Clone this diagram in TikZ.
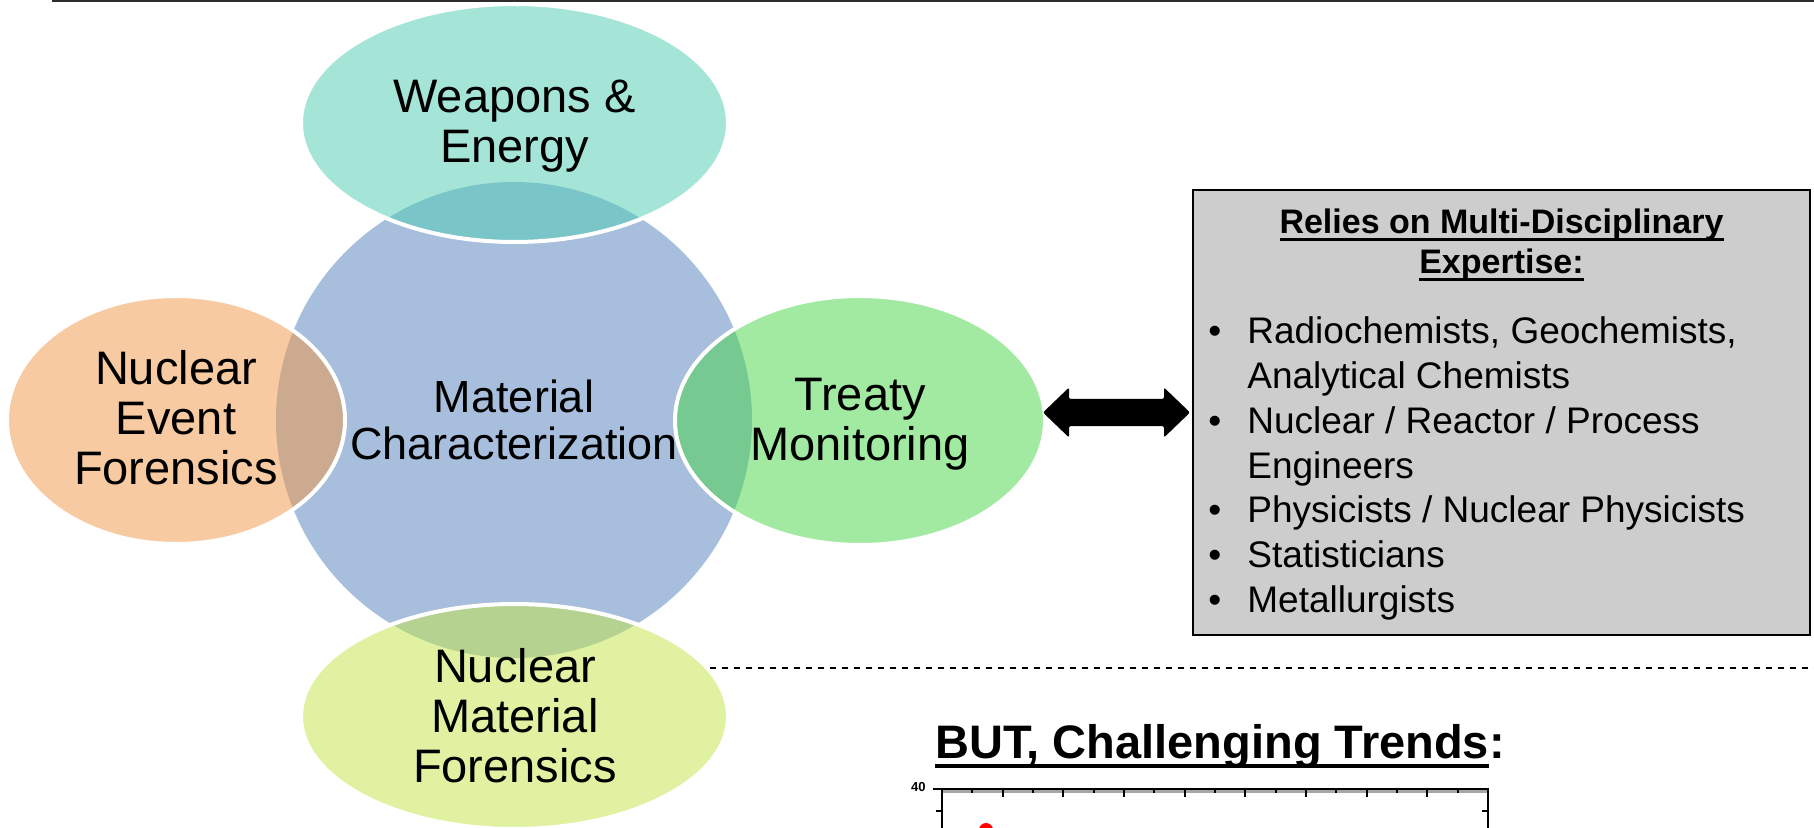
\documentclass[tikz,border=0pt]{standalone}
\usepackage{fontspec}
\setmainfont{Liberation Sans}
\usetikzlibrary{shapes.geometric,calc}
\definecolor{circblue}{RGB}{167,190,220}
\definecolor{tealc}{RGB}{77,205,179}
\definecolor{peachc}{RGB}{241,151,69}
\definecolor{greenc}{RGB}{71,215,71}
\definecolor{limec}{RGB}{195,231,69}
\definecolor{boxgray}{RGB}{205,205,205}
\definecolor{rulegray}{RGB}{45,45,45}
\newsavebox\ulbox
\newcommand\myul[3]{\sbox\ulbox{#1}\rlap{\rule[#2]{\wd\ulbox}{#3}}\usebox\ulbox}
\newcommand\mlines[1]{\begin{tabular}[t]{@{}c@{}}#1\end{tabular}}
\tikzset{
  sat/.style={ellipse, draw=white, line width=2pt, fill opacity=0.5, draw opacity=1, inner sep=0pt},
  biglbl/.style={anchor=base, inner sep=0pt, font=\fontsize{23.5pt}{25pt}\selectfont},
  topline/.style={draw=rulegray, line width=1.2pt},
  dashline/.style={draw=black, line width=0.75pt, dash pattern=on 3pt off 3pt},
  dblarrow/.style={fill=black, rounded corners=1pt},
  axisline/.style={draw=black, line width=1pt},
}
\begin{document}
\begin{tikzpicture}[x=0.5pt,y=-0.5pt]
\clip (0,0) rectangle (1814,828);
\fill[white] (0,0) rectangle (1814,828);
% top rule
\coordinate (tl) at (52,1);
\coordinate (tr) at (1814,1);
\draw[topline] (tl) -- (tr);
% central circle and satellites
\node[circle, fill=circblue, minimum size=238pt, inner sep=0pt] (mc) at (514,420) {};
\node[sat, fill=tealc,  minimum width=213.5pt, minimum height=119pt]   (we) at (514.5,123) {};
\node[sat, fill=peachc, minimum width=169pt,   minimum height=124pt]   (ne) at (176,420) {};
\node[sat, fill=greenc, minimum width=185pt,   minimum height=124.5pt] (tm) at (860,420.5) {};
\node[sat, fill=limec,  minimum width=213.5pt, minimum height=112.5pt] (nm) at (514.5,716.5) {};
% labels
\node[biglbl] (tw) at (514.5,113) {\mlines{Weapons \&\\Energy}};
\node[biglbl, font=\fontsize{22.5pt}{23.5pt}\selectfont] (tc) at (514,413) {\mlines{Material\\Characterization}};
\node[biglbl] (tn) at (176,385) {\mlines{Nuclear\\Event\\Forensics}};
\node[biglbl] (tt) at (860,410) {\mlines{Treaty\\Monitoring}};
\node[biglbl] (tf) at (515,682) {\mlines{Nuclear\\Material\\Forensics}};
% expertise box
\node[draw=black, line width=1pt, fill=boxgray, minimum width=308.5pt, minimum height=222.5pt, inner sep=0pt] (box) at (1501.5,412.5) {};
\node[anchor=base, inner sep=0pt, font=\bfseries\fontsize{17pt}{20pt}\selectfont] (hd) at (1501.5,234)
  {\mlines{\myul{Relies on Multi-Disciplinary}{-3.5pt}{1.5pt}\\\myul{Expertise:}{-3.5pt}{1.5pt}}};
\node[anchor=base west, inner sep=0pt, font=\fontsize{18.5pt}{22.35pt}\selectfont] (bl) at (1208,344)
  {\begin{tabular}[t]{@{}p{19.5pt}@{}l@{}}
   \textbullet & Radiochemists, Geochemists,\\
               & Analytical Chemists\\
   \textbullet & Nuclear / Reactor / Process\\
               & Engineers\\
   \textbullet & Physicists / Nuclear Physicists\\
   \textbullet & Statisticians\\
   \textbullet & Metallurgists
   \end{tabular}};
% double arrow between Treaty Monitoring and the box
\coordinate (aR) at ($(box.west)+(-2,0)$);
\coordinate (aL) at ($(tm.east |- aR)+(-4,0)$);
\fill[dblarrow] (aL) -- ++(26,-25) -- ++(0,11.5) -- ($(aR)+(-26,-13.5)$) -- ++(0,-11.5)
  -- (aR) -- ++(-26,25) -- ++(0,-11.5) -- ($(aL)+(26,13.5)$) -- ++(0,11.5) -- cycle;
% dashed separator
\coordinate (dR) at (1814,669);
\draw[dashline] (nm.14) -- (nm.14 -| dR);
% bottom title
\node[anchor=base west, inner sep=0pt, font=\bfseries\fontsize{23.5pt}{28pt}\selectfont] (but) at (935,758)
  {\myul{BUT, Challenging Trends}{-5pt}{2pt}:};
% partial chart
\draw[draw=black!35, line width=2.5pt] (942,790) -- (1488,790);
\draw[axisline] (942,840) -- (942,789) -- (1488,789) -- (1488,840);
\foreach \k in {1,3,...,17} \draw[axisline] (942+\k*30.33,789) -- ++(0,4);
\foreach \k in {2,4,...,16} \draw[axisline] (942+\k*30.33,789) -- ++(0,8);
\draw[axisline] (942,789) -- ++(-9,0);
\draw[axisline] (942,811) -- ++(-6,0);
\draw[axisline] (1488,811) -- ++(-6,0);
\node[anchor=east, inner sep=0pt, font=\bfseries\fontsize{6.5pt}{7pt}\selectfont] (y40) at (926,787) {40};
\fill[red] (986,830) circle (3.5pt);
\end{tikzpicture}
\end{document}
